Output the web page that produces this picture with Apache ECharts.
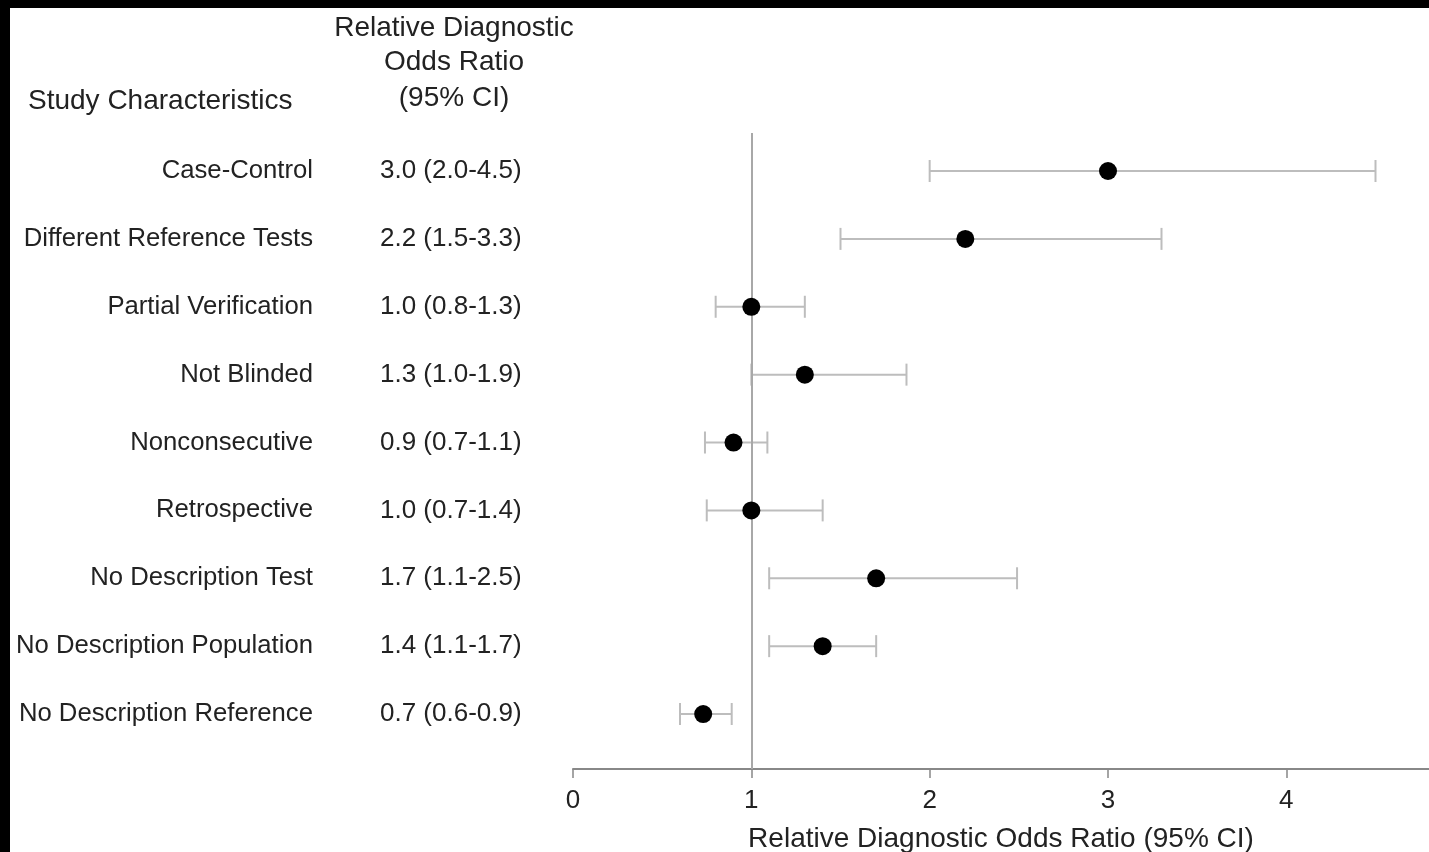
<!DOCTYPE html>
<html>
<head>
<meta charset="utf-8">
<script src="https://cdn.jsdelivr.net/npm/echarts@6/dist/echarts.min.js"></script>
<style>
html,body{margin:0;padding:0;background:#fff;}
#chart{width:1429px;height:852px;}
</style>
</head>
<body>
<div id="chart"></div>
<script>
const categories = ['Case-Control','Different Reference Tests','Partial Verification','Not Blinded','Nonconsecutive','Retrospective','No Description Test','No Description Population','No Description Reference'];
const valueLabels = ['3.0 (2.0-4.5)','2.2 (1.5-3.3)','1.0 (0.8-1.3)','1.3 (1.0-1.9)','0.9 (0.7-1.1)','1.0 (0.7-1.4)','1.7 (1.1-2.5)','1.4 (1.1-1.7)','0.7 (0.6-0.9)'];
const estimates = [3.0, 2.2, 1.0, 1.3, 0.9, 1.0, 1.7, 1.4, 0.73];
const lower = [2.0, 1.5, 0.8, 1.0, 0.74, 0.75, 1.1, 1.1, 0.6];
const upper = [4.5, 3.3, 1.3, 1.87, 1.09, 1.4, 2.49, 1.7, 0.89];
const xTicks = [0, 1, 2, 3, 4];
const headerCol1 = 'Study Characteristics';
const headerCol2 = ['Relative Diagnostic', 'Odds Ratio', '(95% CI)'];
const xAxisTitle = 'Relative Diagnostic Odds Ratio (95% CI)';

const FONT = '"Liberation Sans", Arial, Helvetica, sans-serif';
const TXT = '#222';
const chart = echarts.init(document.getElementById('chart'));

const option = {
  animation: false,
  backgroundColor: '#fff',
  grid: {left: 573, right: 0, top: 133, bottom: 83, outerBoundsMode: 'none', containLabel: false},
  xAxis: {
    type: 'value', min: 0, max: 4.8, interval: 1,
    axisLine: {show: true, onZero: false, lineStyle: {color: '#888', width: 2}},
    axisTick: {show: true, length: 9, lineStyle: {color: '#888', width: 1.5}},
    axisLabel: {color: TXT, fontSize: 26, fontFamily: FONT, margin: 19,
      showMaxLabel: false,
      formatter: v => xTicks.indexOf(v) >= 0 ? String(v) : ''},
    splitLine: {show: false},
    name: xAxisTitle, nameLocation: 'middle', nameGap: 56,
    nameTextStyle: {color: TXT, fontSize: 28, fontFamily: FONT}
  },
  yAxis: {
    type: 'value', min: -0.56, max: 8.81, inverse: true, show: false
  },
  graphic: [
    {type: 'text', x: 28, y: 101, z: 10, style: {text: headerCol1, font: '28px ' + FONT, fill: TXT, align: 'left', verticalAlign: 'middle'}},
    {type: 'text', x: 454, y: 28, z: 10, style: {text: headerCol2[0], font: '28px ' + FONT, fill: TXT, align: 'center', verticalAlign: 'middle'}},
    {type: 'text', x: 454, y: 62, z: 10, style: {text: headerCol2[1], font: '28px ' + FONT, fill: TXT, align: 'center', verticalAlign: 'middle'}},
    {type: 'text', x: 454, y: 98, z: 10, style: {text: headerCol2[2], font: '28px ' + FONT, fill: TXT, align: 'center', verticalAlign: 'middle'}},
    {type: 'rect', shape: {x: 0, y: 0, width: 1429, height: 8}, style: {fill: '#000'}, z: 100},
    {type: 'rect', shape: {x: 0, y: 0, width: 10, height: 852}, style: {fill: '#000'}, z: 100}
  ],
  series: [
    {
      type: 'custom',
      clip: false,
      z: 2,
      data: categories.map((c, i) => [i, lower[i], upper[i]]),
      renderItem: function (params, api) {
        const idx = params.dataIndex;
        const i = api.value(0);
        const lo = api.coord([api.value(1), i]);
        const hi = api.coord([api.value(2), i]);
        const capH = 11;
        const st = {stroke: '#bdbdbd', lineWidth: 2};
        return {type: 'group', children: [
          {type: 'line', shape: {x1: lo[0], y1: lo[1], x2: hi[0], y2: hi[1]}, style: st},
          {type: 'line', shape: {x1: lo[0], y1: lo[1] - capH, x2: lo[0], y2: lo[1] + capH}, style: st},
          {type: 'line', shape: {x1: hi[0], y1: hi[1] - capH, x2: hi[0], y2: hi[1] + capH}, style: st},
          {type: 'text', x: 313, y: lo[1], style: {text: categories[idx], font: '25.7px ' + FONT, fill: TXT, align: 'right', verticalAlign: 'middle'}},
          {type: 'text', x: 380, y: lo[1], style: {text: valueLabels[idx], font: '26px ' + FONT, fill: TXT, align: 'left', verticalAlign: 'middle'}}
        ]};
      },
      markLine: {
        silent: true, symbol: 'none', label: {show: false},
        lineStyle: {color: '#a8a8a8', width: 2, type: 'solid'},
        data: [{xAxis: 1}]
      }
    },
    {
      type: 'scatter',
      z: 5,
      symbol: 'circle',
      symbolSize: 18,
      itemStyle: {color: '#000', opacity: 1},
      data: estimates.map((v, i) => [v, i])
    }
  ]
};
chart.setOption(option);
</script>
</body>
</html>
